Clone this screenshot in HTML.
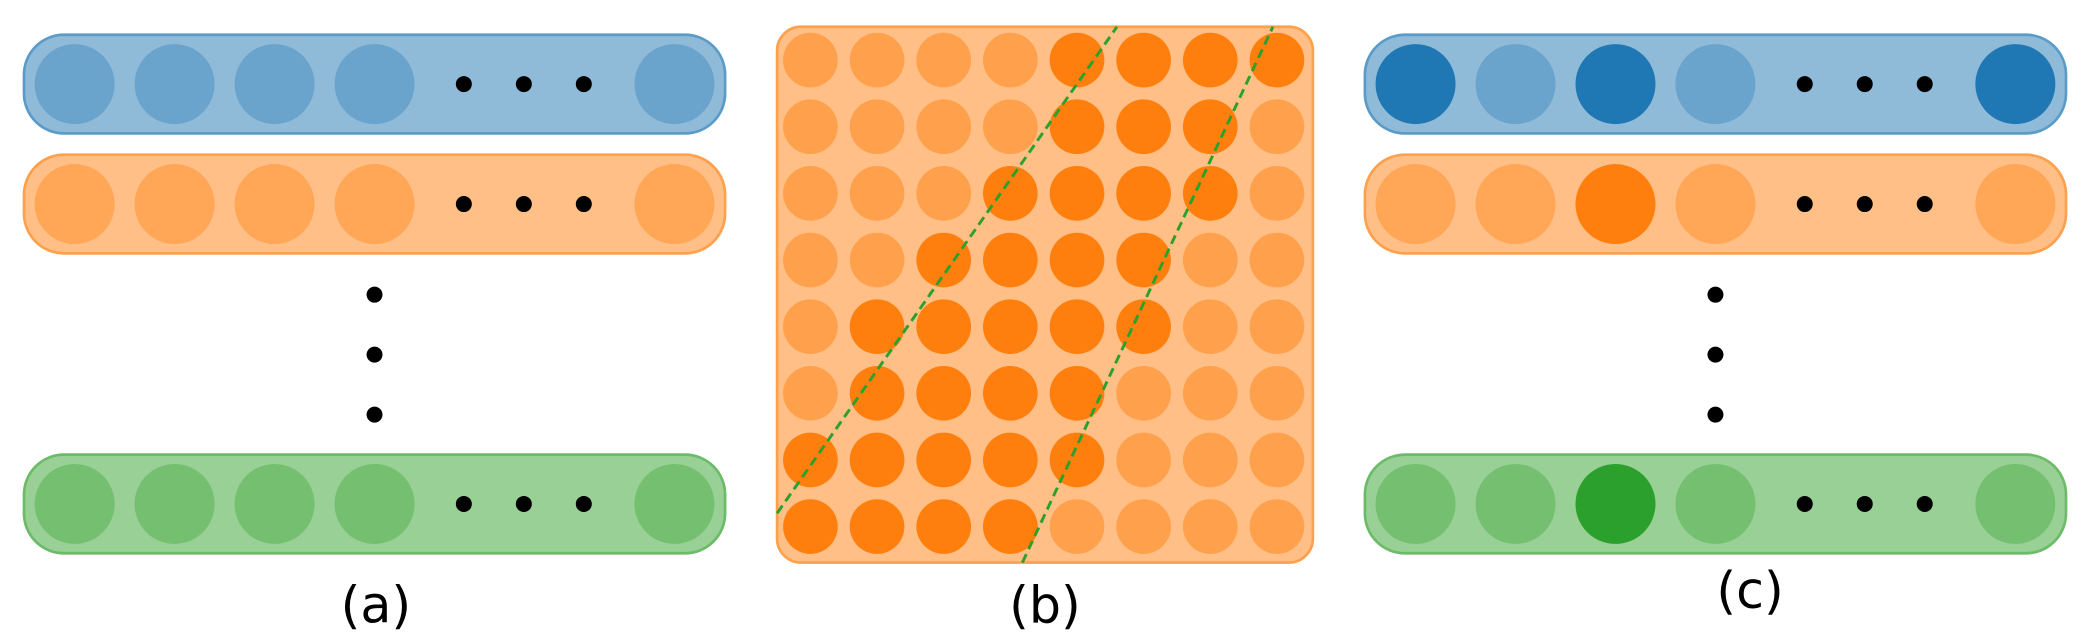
<!DOCTYPE html>
<html><head><meta charset="utf-8"><style>
html,body{margin:0;padding:0;background:#fff;width:2090px;height:640px;overflow:hidden}
svg{display:block}
text{font-family:"DejaVu Sans","Liberation Sans",sans-serif}
</style></head><body>
<svg id="fig" width="2090" height="640" viewBox="0 0 1568 480" xmlns="http://www.w3.org/2000/svg">
<text x="282" y="467" font-size="38" text-anchor="middle">(a)</text>
<text x="784" y="467" font-size="38" text-anchor="middle">(b)</text>
<text x="1313" y="456" font-size="38" text-anchor="middle">(c)</text>
</svg>
<script>
// panel (b) grid: dark columns per row
const gridDarkRows = [[4,5,6,7],[4,5,6],[3,4,5,6],[2,3,4,5],[1,2,3,4,5],[1,2,3,4],[0,1,2,3,4],[0,1,2,3]];
// panel (c) highlighted circle indices per bar (blue, orange, green); 4 = last circle
const cHighlights = [[0,2,4],[2],[2]];
const barColors = [
 {fill:'#8fbbd9',stroke:'#5b9bc8',circ:'#6aa3cc',dark:'#1f77b4'},
 {fill:'#ffbf86',stroke:'#ffa04c',circ:'#ffa657',dark:'#ff7f0e'},
 {fill:'#98d095',stroke:'#6cbb68',circ:'#75bf70',dark:'#2ca02c'}];
const barY = [63,153,378];
const NS='http://www.w3.org/2000/svg';
const svg=document.getElementById('fig');
function mk(tag,attrs){const e=document.createElementNS(NS,tag);for(const k in attrs)e.setAttribute(k,attrs[k]);svg.appendChild(e);return e;}
function panel(x0,hl,name){
 const cx=[x0+38,x0+113,x0+188,x0+263];
 const last=x0+488, dots=[x0+330,x0+375,x0+420];
 barY.forEach((y,i)=>{
  const c=barColors[i];
  const r=mk('rect',{x:x0,y:y-37,width:526,height:74,rx:30,fill:c.fill,stroke:c.stroke,'stroke-width':2});
  
  
  [...cx,last].forEach((x,j)=>{
   const d=hl&&hl[i].includes(j);
   const e=mk('circle',{cx:x,cy:y,r:30,fill:d?c.dark:c.circ});
   
   
  });
  dots.forEach(x=>{const e=mk('circle',{cx:x,cy:y,r:6,fill:'#000'});
   
   });
 });
 [221,266,311].forEach(y=>{const e=mk('circle',{cx:x0+263,cy:y,r:6,fill:'#000'});
  
  });
}
panel(18,null,'panel-a');
panel(1024,cHighlights,'panel-c');
// panel b
const bg=mk('rect',{x:583,y:20,width:402,height:402,rx:18,fill:'#ffbf86',stroke:'#ffa04c','stroke-width':2});


gridDarkRows.forEach((row,ri)=>{
 for(let ci=0;ci<8;ci++){
  const d=row.includes(ci);
  const e=mk('circle',{cx:608+50*ci,cy:45+50*ri,r:20.5,fill:d?'#ff7f0e':'#ffa04c'});
  
  
 }
});
[[583,385,838,20],[767,422,955,20]].forEach(l=>{
 const e=mk('line',{x1:l[0],y1:l[1],x2:l[2],y2:l[3],stroke:'#2ca02c','stroke-width':2.2,'stroke-dasharray':'7,4'});
 
 
});
</script>
</body></html>
